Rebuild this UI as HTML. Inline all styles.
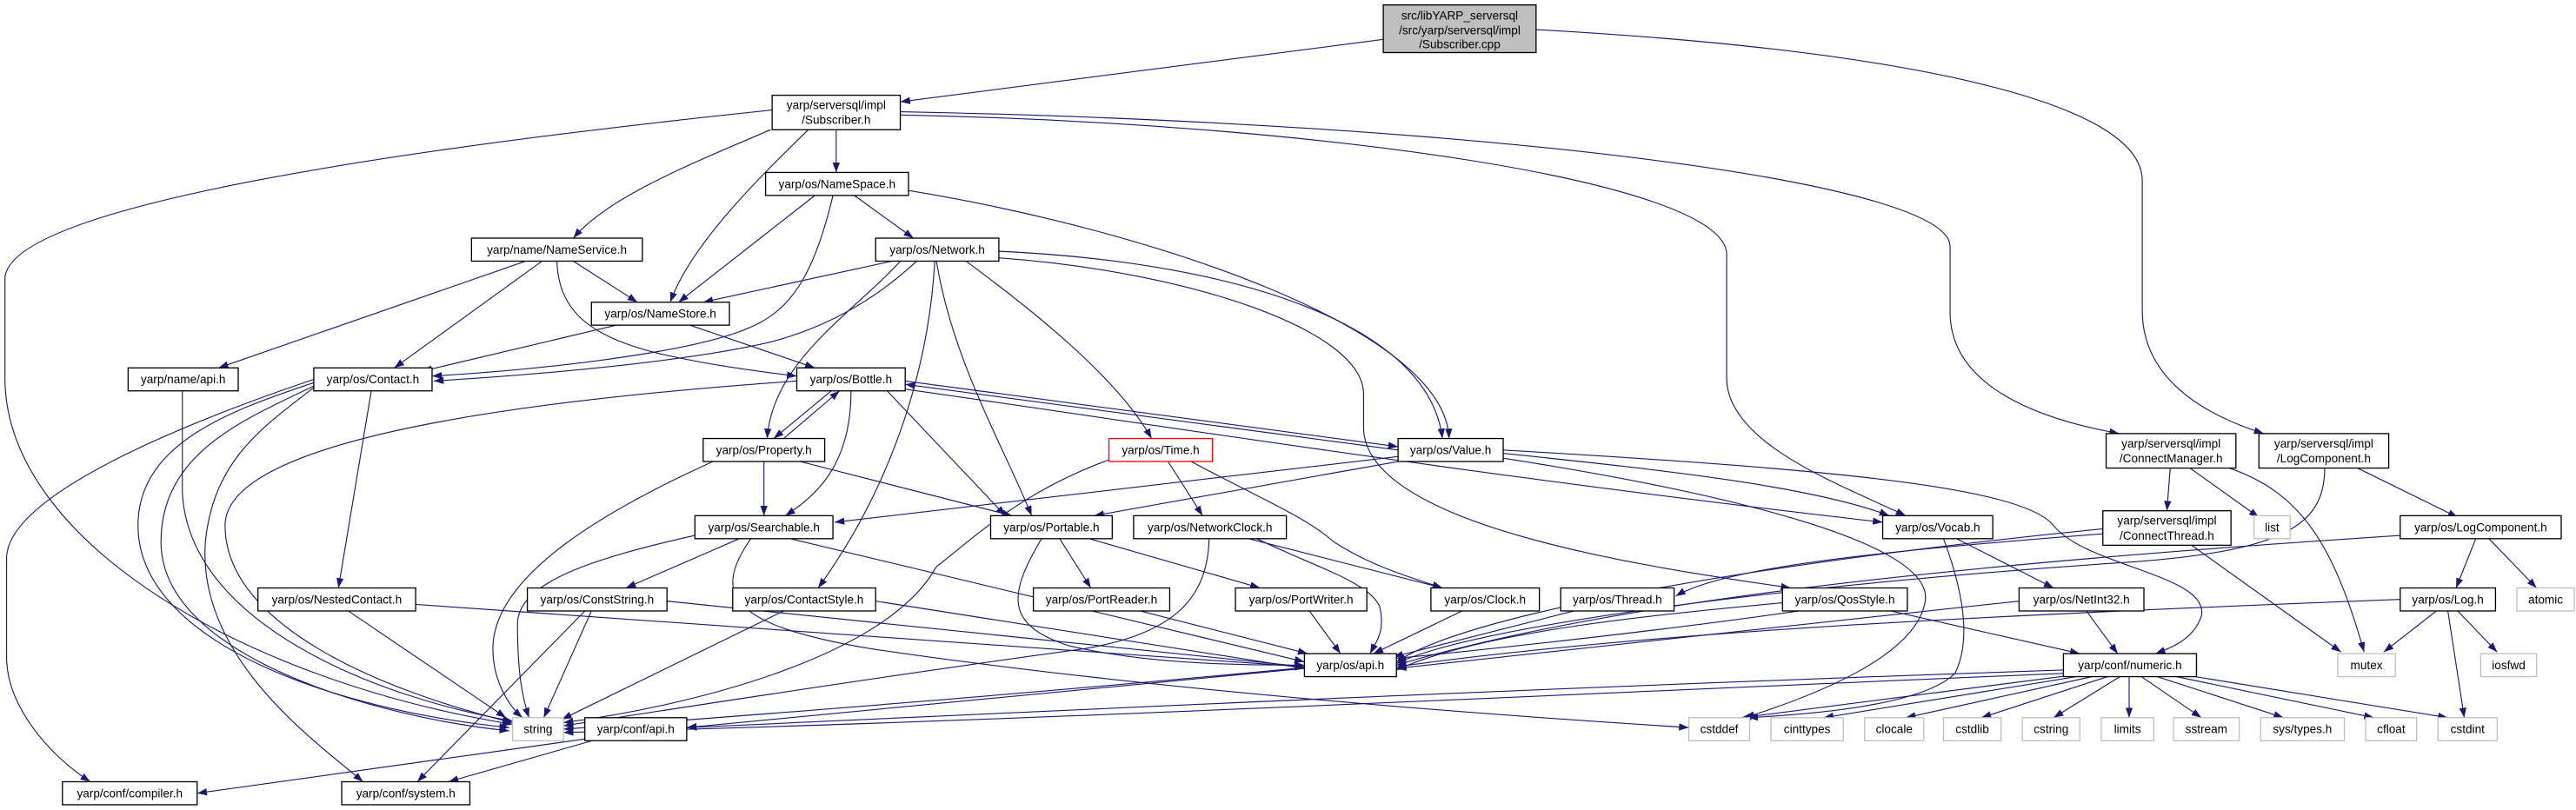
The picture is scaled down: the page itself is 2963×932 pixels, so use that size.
<!DOCTYPE html>
<html><head><meta charset="utf-8"><style>
html,body{margin:0;padding:0;background:#fff;}
svg{display:block}
text{font-family:"Liberation Sans",sans-serif;font-size:7.2px;fill:#000;text-anchor:middle}
.e{fill:none;stroke:#191970;stroke-width:0.6}
.b{fill:#fff;stroke:#000;stroke-width:0.7}
.g{fill:#fff;stroke:#bfbfbf;stroke-width:0.7}
</style></head><body>
<svg width="2963" height="932" viewBox="0 0 1568 493.2" xmlns="http://www.w3.org/2000/svg">
<defs><marker id="a" markerUnits="userSpaceOnUse" markerWidth="6" markerHeight="4.4" refX="6" refY="2.2" orient="auto"><path d="M0,0 L6,2.2 L0,4.4 z" fill="#191970"/></marker></defs>
<g class="e" marker-end="url(#a)">
<path d="M842,24 L548,62"/>
<path d="M935,18 C1150,30 1304,60 1304,110 L1304,189 C1304,230 1340,252 1378,264"/>
<path d="M470,67 C250,90 3,125 3,170 L3,230 C3,330 150,415 312,441"/>
<path d="M469,79 C420,100 370,120 349,145"/>
<path d="M492,79 C460,110 420,150 408,184"/>
<path d="M509,79 L509,105"/>
<path d="M548,70 C800,75 1051,110 1051,155 L1051,230 C1051,270 1120,295 1160,314"/>
<path d="M548,68 C900,75 1187,110 1187,150 L1187,190 C1187,235 1240,255 1290,264"/>
<path d="M496,119 L413,184"/>
<path d="M507,119 C495,170 480,190 455,200 C420,215 330,225 263,229"/>
<path d="M520,119 L556,145"/>
<path d="M553,116 C700,140 880,200 882,267"/>
<path d="M608,153 C760,160 870,200 878,267"/>
<path d="M608,157 C720,165 830,200 830,240 L830,260 C830,320 1000,345 1090,358"/>
<path d="M320,159 L133,224"/>
<path d="M330,159 L240,224"/>
<path d="M349,159 L388,184"/>
<path d="M339,159 C340,190 360,205 400,215 C430,222 460,226 485,229"/>
<path d="M543,159 L428,184"/>
<path d="M558,159 C530,185 500,200 470,208 C420,220 330,228 264,232"/>
<path d="M548,159 C520,190 470,220 467,267"/>
<path d="M570,159 C580,220 610,270 628,314"/>
<path d="M569,159 C565,230 540,300 498,358"/>
<path d="M588,159 C630,190 680,230 701,267"/>
<path d="M375,198 L257,226"/>
<path d="M420,198 L496,224"/>
<path d="M111,238 L111,300 C115,380 230,425 312,439"/>
<path d="M191,231 C120,255 4,300 4,340 L4,400 C4,430 30,460 55,476"/>
<path d="M191,233 C140,250 84,270 84,320 C84,390 200,432 310,443"/>
<path d="M191,235 C150,255 98,275 98,330 C98,400 230,437 310,445"/>
<path d="M191,236 C160,260 130,280 125,330 C120,400 190,450 221,476"/>
<path d="M226,238 L206,358"/>
<path d="M551,232 L851,272"/>
<path d="M851,274 L551,234"/>
<path d="M551,237 C700,258 900,290 1146,318"/>
<path d="M485,232 C300,245 137,270 137,320 C137,380 230,420 312,440"/>
<path d="M506,238 L471,267"/>
<path d="M477,267 L511,238"/>
<path d="M518,238 C518,280 500,300 478,314"/>
<path d="M540,238 L612,314"/>
<path d="M434,281 C370,310 300,350 300,395 C300,415 310,430 318,437"/>
<path d="M465,281 L465,314"/>
<path d="M487,281 L616,314"/>
<path d="M851,278 L508,318"/>
<path d="M851,281 L666,314"/>
<path d="M915,276 C1000,285 1100,295 1150,314"/>
<path d="M915,274 C1100,285 1230,295 1250,320 C1270,345 1345,350 1340,375 C1335,390 1320,395 1312,398"/>
<path d="M915,279 C1050,300 1175,330 1172,365 C1168,400 1100,425 1062,437"/>
<path d="M675,280 C620,300 590,330 570,345 C540,400 420,430 343,440"/>
<path d="M711,281 L732,314"/>
<path d="M725,281 C770,305 795,315 812,330 C835,345 860,352 878,358"/>
<path d="M423,326 C360,340 315,355 315,380 C315,410 318,425 322,437"/>
<path d="M450,328 L381,358"/>
<path d="M457,328 C435,360 440,380 530,395 C700,420 900,435 1028,443"/>
<path d="M481,328 L794,403"/>
<path d="M645,328 L664,358"/>
<path d="M663,328 L767,358"/>
<path d="M634,328 C615,360 610,380 650,393 C700,405 760,405 794,405"/>
<path d="M765,328 C800,345 835,355 840,370 C843,385 838,390 834,398"/>
<path d="M760,328 L878,358"/>
<path d="M736,328 C735,360 720,385 660,395 C550,410 420,430 343,442"/>
<path d="M694,372 L796,398"/>
<path d="M797,372 L816,398"/>
<path d="M890,372 L836,398"/>
<path d="M958,372 L848,400"/>
<path d="M1280,325 C1150,335 1050,345 1020,363"/>
<path d="M1280,322 C1100,340 900,370 850,403"/>
<path d="M1334,332 L1425,397"/>
<path d="M1321,285 L1319,311"/>
<path d="M1333,285 L1375,315"/>
<path d="M1357,285 C1400,300 1420,330 1439,397"/>
<path d="M1435,285 L1496,315"/>
<path d="M1415,285 C1415,320 1390,335 1300,342 C1100,355 900,380 850,404"/>
<path d="M1507,328 L1495,358"/>
<path d="M1515,328 L1544,358"/>
<path d="M1461,326 C1250,340 1000,360 850,405"/>
<path d="M1483,372 L1451,397"/>
<path d="M1496,372 L1520,397"/>
<path d="M1490,372 L1500,437"/>
<path d="M1461,365 C1200,375 1000,385 850,406"/>
<path d="M1270,372 L1289,398"/>
<path d="M1229,366 L850,407"/>
<path d="M1151,372 L1266,398"/>
<path d="M1085,367 C1000,375 900,385 850,408"/>
<path d="M1095,372 C900,400 600,425 343,444"/>
<path d="M1191,328 L1250,358"/>
<path d="M1183,328 C1195,360 1200,390 1190,410 C1170,430 1100,435 1064,437"/>
<path d="M212,372 L308,437"/>
<path d="M253,368 L794,406"/>
<path d="M360,372 L331,437"/>
<path d="M356,372 L254,476"/>
<path d="M406,366 L794,406"/>
<path d="M477,372 L342,438"/>
<path d="M533,366 L794,407"/>
<path d="M794,407 L418,443"/>
<path d="M356,450 L120,483"/>
<path d="M364,450 L273,476"/>
<path d="M1256,408 C900,420 600,435 418,443"/>
<path d="M1256,410 C900,425 600,440 343,446"/>
<path d="M1262,411 L1060,437"/>
<path d="M1270,411 L1110,437"/>
<path d="M1278,411 L1160,437"/>
<path d="M1286,411 L1206,437"/>
<path d="M1292,411 L1250,437"/>
<path d="M1296,411 L1296,437"/>
<path d="M1302,411 L1340,437"/>
<path d="M1310,411 L1390,437"/>
<path d="M1320,411 L1445,437"/>
<path d="M1330,411 L1490,437"/>
</g>
<g>
<rect x="842" y="3" width="93" height="29" fill="#bfbfbf" stroke="#000" stroke-width="0.7"/>
<text x="888.5" y="12">src/libYARP_serversql</text><text x="888.5" y="21">/src/yarp/serversql/impl</text><text x="888.5" y="29.5">/Subscriber.cpp</text>
<rect class="b" x="470" y="58" width="78" height="21"/><text x="509" y="66.5">yarp/serversql/impl</text><text x="509" y="75.5">/Subscriber.h</text>
<rect class="b" x="466" y="105" width="87" height="14"/><text x="509.5" y="114.5">yarp/os/NameSpace.h</text>
<rect class="b" x="287" y="145" width="104" height="14"/><text x="339" y="154.5">yarp/name/NameService.h</text>
<rect class="b" x="533" y="145" width="75" height="14"/><text x="570.5" y="154.5">yarp/os/Network.h</text>
<rect class="b" x="360" y="184" width="84" height="14"/><text x="402" y="193.5">yarp/os/NameStore.h</text>
<rect class="b" x="78" y="224" width="67" height="14"/><text x="111.5" y="233.5">yarp/name/api.h</text>
<rect class="b" x="191" y="224" width="72" height="14"/><text x="227" y="233.5">yarp/os/Contact.h</text>
<rect class="b" x="485" y="224" width="66" height="14"/><text x="518" y="233.5">yarp/os/Bottle.h</text>
<rect class="b" x="428" y="267" width="74" height="14"/><text x="465" y="276.5">yarp/os/Property.h</text>
<rect x="675" y="267" width="63" height="14" fill="#fff" stroke="#ff0000" stroke-width="0.7"/><text x="706.5" y="276.5">yarp/os/Time.h</text>
<rect class="b" x="851" y="267" width="64" height="14"/><text x="883" y="276.5">yarp/os/Value.h</text>
<rect class="b" x="1282" y="264" width="79" height="21"/><text x="1321.5" y="272.5">yarp/serversql/impl</text><text x="1321.5" y="281.5">/ConnectManager.h</text>
<rect class="b" x="1375" y="264" width="79" height="21"/><text x="1414.5" y="272.5">yarp/serversql/impl</text><text x="1414.5" y="281.5">/LogComponent.h</text>
<rect class="b" x="423" y="314" width="84" height="14"/><text x="465" y="323.5">yarp/os/Searchable.h</text>
<rect class="b" x="603" y="314" width="74" height="14"/><text x="640" y="323.5">yarp/os/Portable.h</text>
<rect class="b" x="690" y="314" width="93" height="14"/><text x="736.5" y="323.5">yarp/os/NetworkClock.h</text>
<rect class="b" x="1146" y="314" width="67" height="14"/><text x="1179.5" y="323.5">yarp/os/Vocab.h</text>
<rect class="b" x="1280" y="311" width="78" height="21"/><text x="1319" y="319.5">yarp/serversql/impl</text><text x="1319" y="328.5">/ConnectThread.h</text>
<rect class="g" x="1372" y="314" width="22" height="14"/><text x="1383" y="323.5">list</text>
<rect class="b" x="1461" y="314" width="98" height="14"/><text x="1510" y="323.5">yarp/os/LogComponent.h</text>
<rect class="b" x="157" y="358" width="96" height="14"/><text x="205" y="367.5">yarp/os/NestedContact.h</text>
<rect class="b" x="321" y="358" width="85" height="14"/><text x="363.5" y="367.5">yarp/os/ConstString.h</text>
<rect class="b" x="446" y="358" width="87" height="14"/><text x="489.5" y="367.5">yarp/os/ContactStyle.h</text>
<rect class="b" x="629" y="358" width="83" height="14"/><text x="670.5" y="367.5">yarp/os/PortReader.h</text>
<rect class="b" x="752" y="358" width="80" height="14"/><text x="792" y="367.5">yarp/os/PortWriter.h</text>
<rect class="b" x="871" y="358" width="66" height="14"/><text x="904" y="367.5">yarp/os/Clock.h</text>
<rect class="b" x="950" y="358" width="69" height="14"/><text x="984.5" y="367.5">yarp/os/Thread.h</text>
<rect class="b" x="1085" y="358" width="76" height="14"/><text x="1123" y="367.5">yarp/os/QosStyle.h</text>
<rect class="b" x="1229" y="358" width="76" height="14"/><text x="1267" y="367.5">yarp/os/NetInt32.h</text>
<rect class="b" x="1461" y="358" width="58" height="14"/><text x="1490" y="367.5">yarp/os/Log.h</text>
<rect class="g" x="1532" y="358" width="35" height="14"/><text x="1549.5" y="367.5">atomic</text>
<rect class="b" x="794" y="398" width="56" height="14"/><text x="822" y="407.5">yarp/os/api.h</text>
<rect class="b" x="1256" y="398" width="81" height="14"/><text x="1296.5" y="407.5">yarp/conf/numeric.h</text>
<rect class="g" x="1423" y="398" width="35" height="14"/><text x="1440.5" y="407.5">mutex</text>
<rect class="g" x="1510" y="398" width="34" height="14"/><text x="1527" y="407.5">iosfwd</text>
<rect class="g" x="312" y="437" width="31" height="14"/><text x="327.5" y="446.5">string</text>
<rect class="b" x="356" y="437" width="62" height="14"/><text x="387" y="446.5">yarp/conf/api.h</text>
<rect class="g" x="1028" y="437" width="37" height="14"/><text x="1046.5" y="446.5">cstddef</text>
<rect class="g" x="1078" y="437" width="44" height="14"/><text x="1100" y="446.5">cinttypes</text>
<rect class="g" x="1135" y="437" width="36" height="14"/><text x="1153" y="446.5">clocale</text>
<rect class="g" x="1183" y="437" width="35" height="14"/><text x="1200.5" y="446.5">cstdlib</text>
<rect class="g" x="1231" y="437" width="35" height="14"/><text x="1248.5" y="446.5">cstring</text>
<rect class="g" x="1279" y="437" width="32" height="14"/><text x="1295" y="446.5">limits</text>
<rect class="g" x="1323" y="437" width="40" height="14"/><text x="1343" y="446.5">sstream</text>
<rect class="g" x="1376" y="437" width="51" height="14"/><text x="1401.5" y="446.5">sys/types.h</text>
<rect class="g" x="1440" y="437" width="31" height="14"/><text x="1455.5" y="446.5">cfloat</text>
<rect class="g" x="1484" y="437" width="36" height="14"/><text x="1502" y="446.5">cstdint</text>
<rect class="b" x="38" y="476" width="82" height="14"/><text x="79" y="485.5">yarp/conf/compiler.h</text>
<rect class="b" x="208" y="476" width="78" height="14"/><text x="247" y="485.5">yarp/conf/system.h</text>
</g>
</svg>
</body></html>
